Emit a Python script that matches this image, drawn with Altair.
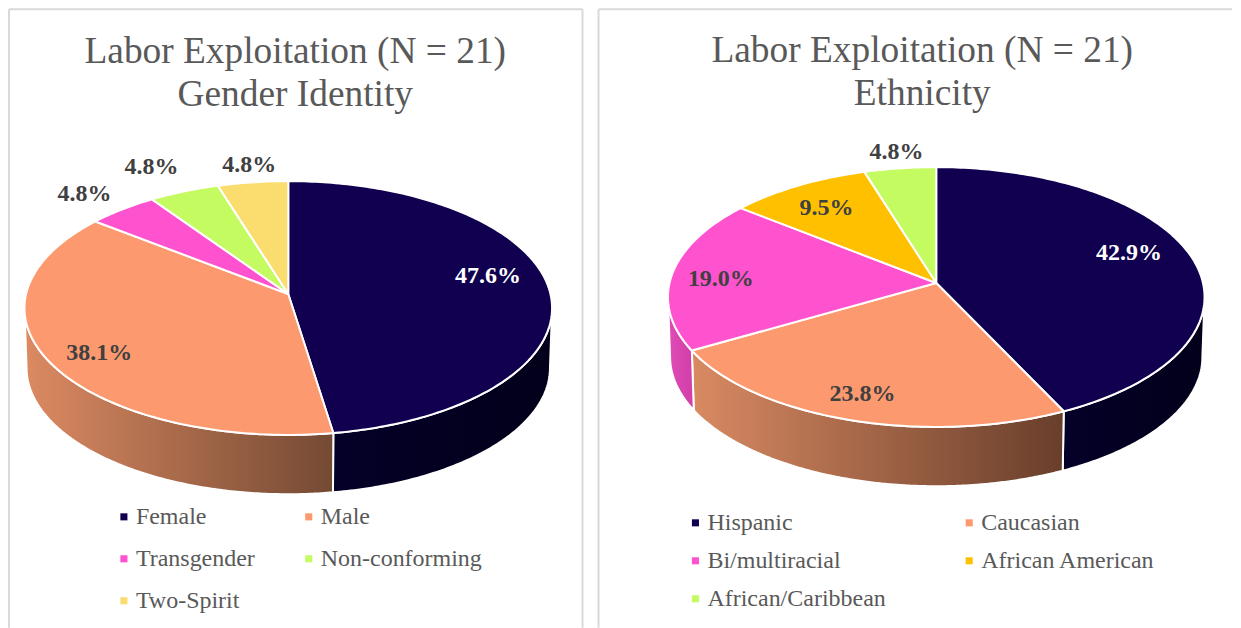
import numpy as np
import pandas as pd
import altair as alt

# ---- values
gender_names = ["Female", "Male", "Transgender", "Non-conforming", "Two-Spirit"]
gender_pct = [47.6, 38.1, 4.8, 4.8, 4.8]
ethnicity_names = ["Hispanic", "Caucasian", "Bi/multiracial", "African American", "African/Caribbean"]
ethnicity_pct = [42.9, 23.8, 19.0, 9.5, 4.8]
gender_legend_order = ["Female", "Transgender", "Two-Spirit", "Male", "Non-conforming"]
ethnicity_legend_order = ["Hispanic", "Bi/multiracial", "African/Caribbean", "Caucasian", "African American"]

# ---- styles
gender_colors = ["#10004f", "#fd996e", "#ff52cf", "#c4fb60", "#fbdc6e"]
ethnicity_colors = ["#10004f", "#fd996e", "#ff52cf", "#ffc000", "#c4fb60"]
TITLE_GREY = "#595959"
LABEL_DARK = "#404040"
FRAME = "#d9d9d9"
SERIF = "Liberation Serif"


def homography(x, y, a):
    s = np.sqrt(1 - a * a)
    den = 1 + a * y
    return x * s / den, (y + a) / den


def panel(names, pct, colors, legend_order, title, W, H, cx, cy, rx, ry, a, depth, white_labels,
          label_place, walls, frame_x, frame_top, legend_xy, column_padding, row_padding, title_offset, title_dx):
    shares = np.array(pct) / np.sum(pct) * 2 * np.pi
    edges = np.concatenate([[0], np.cumsum(shares)])
    x_scale = alt.Scale(domain=[-cx / rx, (W - cx) / rx], range=[0, W], nice=False, zero=False)
    y_scale = alt.Scale(domain=[(cy - H) / ry, cy / ry], range=[H, 0], nice=False, zero=False)
    X = alt.X("x:Q", scale=x_scale, axis=None)
    Y = alt.Y("y:Q", scale=y_scale, axis=None)

    # top face
    rows = []
    for name, t0, t1 in zip(names, edges[:-1], edges[1:]):
        th = np.linspace(t0, t1, max(6, int((t1 - t0) * 60)))
        px, py = homography(np.sin(th), np.cos(th), a)
        ax, ay = homography(0.0, 0.0, a)
        xs = np.concatenate([[ax], px, [ax]])
        ys = np.concatenate([[ay], py, [ay]])
        for i, (u, v) in enumerate(zip(xs, ys)):
            rows.append({"name": name, "i": i, "x": u, "y": v})
    top = alt.Chart(pd.DataFrame(rows)).mark_line(
        filled=True, stroke="white", strokeWidth=2, strokeJoin="round", clip=False
    ).encode(
        x=X, y=Y, order="i:Q", detail="name:N",
        color=alt.Color(
            "name:N",
            scale=alt.Scale(domain=names, range=colors),
            legend=alt.Legend(
                title=None, orient="none", legendX=legend_xy[0], legendY=legend_xy[1], columns=2,
                values=legend_order,
                columnPadding=column_padding, rowPadding=row_padding,
                symbolType="square", symbolSize=50, symbolStrokeWidth=0, symbolOpacity=1,
                labelFont=SERIF, labelFontSize=24, labelColor=TITLE_GREY, labelLimit=300,
                symbolOffset=0, labelOffset=0,
            ),
        ),
    )

    # side walls, front half of the rim only
    layers = []
    for idx, c0, c1 in walls:
        t0, t1 = edges[idx], edges[idx + 1]
        th = np.linspace(t0, t1, 240)
        px, py = homography(np.sin(th), np.cos(th), a)
        keep = py <= 0
        px, py = px[keep], py[keep]
        order = np.argsort(px)
        px, py = px[order], py[order]
        lx, ly = px * 0.992, py * 0.995 - depth / ry
        xs = np.concatenate([px, lx[::-1], px[:1]])
        ys = np.concatenate([py, ly[::-1], py[:1]])
        grad = alt.Gradient(
            gradient="linear", x1=0, x2=1, y1=0, y2=0,
            stops=[alt.GradientStop(color=c0, offset=0), alt.GradientStop(color=c1, offset=1)],
        )
        df = pd.DataFrame({"i": range(len(xs)), "x": xs, "y": ys})
        layers.append(
            alt.Chart(df).mark_line(filled=True, fill=grad, stroke="white", strokeWidth=2, strokeJoin="round").encode(
                x=X, y=Y, order="i:Q"
            )
        )

    # percentage labels
    mids = (edges[:-1] + edges[1:]) / 2
    lab = []
    for k, (p, m) in enumerate(zip(pct, mids)):
        r, shift = label_place[k]
        th = m + np.radians(shift)
        u, v = homography(r * np.sin(th), r * np.cos(th), a)
        lab.append({"text": f"{p:.1f}%", "x": u, "y": v, "white": k in white_labels})
    lab = pd.DataFrame(lab)
    text = []
    for flag, col in [(False, LABEL_DARK), (True, "white")]:
        text.append(
            alt.Chart(lab[lab["white"] == flag]).mark_text(
                font=SERIF, fontSize=24, fontWeight="bold", color=col, align="center", baseline="middle"
            ).encode(x=X, y=Y, text="text:N")
        )

    # frame, open at the bottom
    fr = alt.Chart(pd.DataFrame({"k": [0]}))
    frames = []
    for fx in frame_x:
        frames.append(fr.mark_rule(color=FRAME, strokeWidth=2).encode(
            x=alt.value(fx), y=alt.value(frame_top), y2=alt.value(H)))
    if len(frame_x) > 1:
        x2 = frame_x[1]
    else:
        x2 = W
    frames.append(fr.mark_rule(color=FRAME, strokeWidth=2).encode(
        x=alt.value(frame_x[0]), x2=alt.value(x2), y=alt.value(frame_top)))

    return alt.layer(*frames, *layers, top, *text).properties(
        width=W, height=H,
        title=alt.TitleParams(
            title, font=SERIF, fontSize=37.4, fontWeight="normal", color=TITLE_GREY,
            lineHeight=43, anchor="middle", offset=title_offset, dx=title_dx, frame="group",
        ),
    )


left = panel(
    gender_names, gender_pct, gender_colors, gender_legend_order,
    ["Labor Exploitation (N = 21)", "Gender Identity"],
    W=577, H=623, cx=280.5, cy=303, rx=264, ry=127, a=0.11, depth=60, white_labels={0},
    label_place=[(0.788, -6.4), (0.82, -3.0), (1.218, -1.2), (1.28, -1.4), (1.172, 0.4)],
    walls=[(0, "#050028", "#02001a"), (1, "#dc8a62", "#744a33")],
    frame_x=[1, 575], frame_top=4, legend_xy=(104, 500),
    column_padding=41, row_padding=18, title_offset=-108, title_dx=-1,
)
right = panel(
    ethnicity_names, ethnicity_pct, ethnicity_colors, ethnicity_legend_order,
    ["Labor Exploitation (N = 21)", "Ethnicity"],
    W=635, H=623, cx=339, cy=292, rx=268.5, ry=130, a=0.108, depth=60, white_labels={0},
    label_place=[(0.778, -5.0), (0.829, 0.5), (0.811, -2.1), (0.762, -0.8), (1.157, 0.3)],
    walls=[(0, "#050028", "#02001a"), (1, "#d98a62", "#683e2b"), (2, "#e04cb8", "#d23ea6")],
    frame_x=[1], frame_top=4, legend_xy=(86, 506),
    column_padding=71, row_padding=14, title_offset=-107, title_dx=7.5,
)

chart = alt.hconcat(left, right, spacing=13).resolve_scale(color="independent").properties(
    padding={"left": 0, "right": 0, "top": -3, "bottom": 0},
    background="white",
).configure_view(strokeWidth=0)

chart.save("out.html", embed_options={"renderer": "svg", "actions": False})
